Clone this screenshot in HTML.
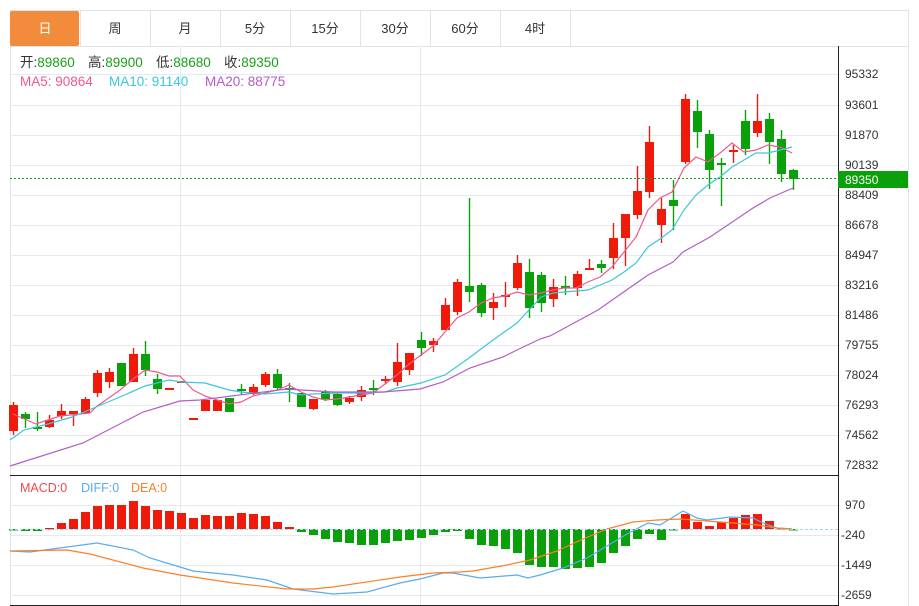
<!DOCTYPE html>
<html><head><meta charset="utf-8">
<style>
html,body{margin:0;padding:0;background:#fff;width:919px;height:606px;overflow:hidden}
svg{display:block}
text{font-family:"Liberation Sans","Noto Sans CJK SC",sans-serif}
</style></head><body>
<svg id="s" width="919" height="606" xmlns="http://www.w3.org/2000/svg">
<rect x="0" y="0" width="919" height="606" fill="#fff"/>
<line x1="10" y1="10.5" x2="908" y2="10.5" stroke="#dde3ea"/>
<line x1="10" y1="46.5" x2="908" y2="46.5" stroke="#dde3ea"/>
<line x1="908.5" y1="10" x2="908.5" y2="606" stroke="#dde3ea"/>
<line x1="10.5" y1="10" x2="10.5" y2="606" stroke="#dde3ea"/>
<rect x="10" y="11" width="69" height="35" rx="2" fill="#f28b3c"/>
<g stroke="#dde3ea">
<line x1="80.5" y1="10" x2="80.5" y2="46"/><line x1="150.5" y1="10" x2="150.5" y2="46"/>
<line x1="220.5" y1="10" x2="220.5" y2="46"/><line x1="290.5" y1="10" x2="290.5" y2="46"/>
<line x1="360.5" y1="10" x2="360.5" y2="46"/><line x1="430.5" y1="10" x2="430.5" y2="46"/>
<line x1="500.5" y1="10" x2="500.5" y2="46"/><line x1="570.5" y1="10" x2="570.5" y2="46"/>
</g>
<g font-size="13" text-anchor="middle" fill="#333">
<text x="45" y="33" fill="#fff">日</text><text x="115" y="33">周</text><text x="185" y="33">月</text>
<text x="255" y="33">5分</text><text x="325" y="33">15分</text><text x="395" y="33">30分</text>
<text x="465" y="33">60分</text><text x="535" y="33">4时</text>
</g>
<g id="grid" stroke="#e3eaf0" stroke-width="1"></g>
<line x1="180.5" y1="46" x2="180.5" y2="605" stroke="#e3eaf0"/>
<line x1="420.5" y1="46" x2="420.5" y2="605" stroke="#e3eaf0"/>
<g font-size="13.5" fill="#333">
<text x="20" y="67">开:<tspan fill="#1aa01a">89860</tspan></text>
<text x="88" y="67">高:<tspan fill="#1aa01a">89900</tspan></text>
<text x="156" y="67">低:<tspan fill="#1aa01a">88680</tspan></text>
<text x="224" y="67">收:<tspan fill="#1aa01a">89350</tspan></text>
<text x="20" y="86" fill="#ef5a8a">MA5: 90864</text>
<text x="109" y="86" fill="#3cc6dc">MA10: 91140</text>
<text x="205" y="86" fill="#b45cc8">MA20: 88775</text>
</g>
<g font-size="12.5">
<text x="20" y="492" fill="#f04a4a">MACD:0</text>
<text x="81" y="492" fill="#5aabf0">DIFF:0</text>
<text x="131" y="492" fill="#ff7f27">DEA:0</text>
</g>
<g id="plot"></g>
<line x1="10" y1="529.5" x2="838" y2="529.5" stroke="#a8d8ee" stroke-dasharray="3,2"/>
<line x1="10" y1="178.5" x2="838" y2="178.5" stroke="#1aa01a" stroke-dasharray="2,2"/>
<line x1="10" y1="475.5" x2="838" y2="475.5" stroke="#222"/>
<line x1="10" y1="605.5" x2="838" y2="605.5" stroke="#222"/>
<line x1="838.5" y1="46" x2="838.5" y2="606" stroke="#222"/>
<g font-size="12" fill="#333" id="labels">
<text x="845" y="78">95332</text><text x="845" y="109">93601</text><text x="845" y="139">91870</text>
<text x="845" y="169">90139</text><text x="845" y="199">88409</text><text x="845" y="229">86678</text>
<text x="845" y="259">84947</text><text x="845" y="289">83216</text><text x="845" y="319">81486</text>
<text x="845" y="349">79755</text><text x="845" y="379">78024</text><text x="845" y="409">76293</text>
<text x="845" y="439">74562</text><text x="845" y="469">72832</text>
<text x="845" y="509">970</text><text x="841" y="539">-240</text><text x="841" y="569">-1449</text><text x="841" y="599">-2659</text>
</g>
<rect x="838" y="171" width="70" height="17" fill="#0aa00a"/>
<text x="845" y="184" font-size="12" fill="#fff">89350</text>
</svg>
<script>
var NS="http://www.w3.org/2000/svg",g=document.getElementById('grid'),p=document.getElementById('plot');
function el(t,a,par){var e=document.createElementNS(NS,t);for(var k in a)e.setAttribute(k,a[k]);(par||p).appendChild(e);return e;}
[74,105,135,165,195,225,255,285,315,345,375,405,435,465,505,535,565,595].forEach(function(y){el('line',{x1:10,x2:838,y1:y+.5,y2:y+.5},g);});
var R="#f01a0a",G="#0aa00a";
var c=[[405,431,402,435,'r'],[414,419,412,428,'g'],[427,429,412,431,'g'],[420,427,415,428,'r'],[411,416,404,419,'r'],[411,414,411,426,'r'],[399,413,397,413,'r'],[373,393,370,397,'r'],[372,382,368,388,'r'],[363,386,363,386,'g'],[354,382,348,382,'r'],[354,370,341,376,'g'],[379,389,374,394,'g'],[388,390,388,390,'r'],[381,383,381,383,'r'],[418,420,418,420,'r'],[400,411,400,411,'r'],[400,411,400,411,'r'],[398,412,398,412,'g'],[389,391,384,395,'g'],[387,394,384,395,'r'],[374,385,372,387,'r'],[374,388,369,390,'g'],[388,390,383,402,'g'],[393,407,393,407,'g'],[399,409,399,410,'r'],[392,399,390,401,'g'],[394,405,393,406,'g'],[398,402,396,404,'r'],[390,397,386,401,'r'],[388,390,380,395,'g'],[379,381,376,384,'r'],[362,382,343,386,'r'],[353,370,353,375,'r'],[340,348,332,356,'g'],[341,345,338,352,'r'],[305,330,298,330,'r'],[282,312,279,315,'r'],[286,292,198,302,'g'],[285,313,283,317,'g'],[302,308,293,320,'r'],[295,297,282,307,'r'],[263,288,255,290,'r'],[272,308,259,318,'g'],[275,303,272,312,'g'],[287,299,279,307,'r'],[286,288,276,295,'g'],[274,288,271,296,'r'],[268,270,259,270,'r'],[264,268,260,273,'g'],[238,258,223,269,'r'],[214,238,214,266,'r'],[191,215,166,219,'r'],[142,192,126,198,'r'],[209,225,198,243,'r'],[200,206,180,230,'g'],[99,162,94,164,'r'],[111,132,100,148,'g'],[134,170,130,189,'g'],[163,165,158,206,'g'],[150,152,145,163,'r'],[121,149,110,155,'g'],[121,133,94,137,'r'],[119,142,113,164,'g'],[139,174,130,182,'g'],[170,179,169,190,'g']];
c.forEach(function(d,i){var x=13+12*i,col=d[4]=='r'?R:G;
el('line',{x1:x+.5,x2:x+.5,y1:d[2],y2:d[3],stroke:col,'stroke-width':1.4});
el('rect',{x:x-4,y:d[0],width:9,height:Math.max(d[1]-d[0],1.5),fill:col});});
var m=[529,531,531,528,523,519,512,506,505,505,501,506,510,511,513,518,515,516,516,513,514,516,522,527,532,535,539,542,543,545,545,543,541,540,538,535,532,531,539,545,546,549,553,565,567,567,569,568,567,563,553,546,539,534,540,529,514,522,526,522,518,515,514,521,528,529];
m.forEach(function(v,i){var x=13+12*i,col=v<529?R:G,y=Math.min(v,529),h=Math.max(Math.abs(v-529),1.5);
el('rect',{x:x-4,y:y,width:9,height:h,fill:col});});
function pl(pts,col){el('polyline',{points:pts,fill:'none',stroke:col,'stroke-width':1.2});}
pl("13,414 36,424 60,416 90,413 96,407 120,390 132,380 145,370 157,372 169,376 180,376 193,390 205,396 229,404 241,402 253,396 277,390 289,385 301,392 313,397 325,400 337,399 349,397 361,395 373,393 385,384 397,375 409,364 421,355 433,346 445,332 457,318 469,312 481,303 493,298 505,296 517,292 529,295 541,293 553,290 564,288 576,288 588,282 600,277 612,267 624,252 636,237 648,210 660,198 672,192 684,168 696,157 708,162 720,153 732,143 744,152 756,150 768,145 780,147 792,153","#ef5a8a");
pl("10,440 24,430 48,424 72,417 96,407 120,397 145,386 169,380 181,382 205,383 229,390 241,392 265,394 289,392 301,395 313,394 337,393 361,393 385,392 397,388 421,383 445,375 469,358 493,340 517,323 541,297 553,293 564,292 588,290 600,285 612,280 624,272 636,263 648,247 660,239 672,230 684,210 696,195 708,185 720,177 732,167 744,160 756,153 768,153 780,150 792,147","#3cc6dc");
pl("10,466 83,443 143,412 180,401 200,400 287,389 333,392 383,392 420,389 443,382 470,368 503,357 517,350 540,339 550,336 598,310 648,275 673,262 683,252 710,237 753,208 770,198 793,188","#b45cc8");
pl("10,551 30,552 67,547 97,543 133,550 150,558 180,567 193,571 233,575 267,580 293,589 333,594 367,592 400,583 420,579 443,573 453,573 480,578 517,575 528,578 540,575 563,568 587,558 607,546 627,534 648,523 660,525 683,511 697,518 707,520 730,517 753,518 763,523 777,528 792,529","#5aabf0");
pl("10,551 67,550 90,554 143,568 180,575 233,583 287,589 313,589 333,587 400,577 433,573 460,572 473,571 507,565 530,560 557,551 583,539 607,529 633,522 657,520 680,519 707,521 733,523 757,525 777,528 792,529","#ff7f27");
</script>
</body></html>
